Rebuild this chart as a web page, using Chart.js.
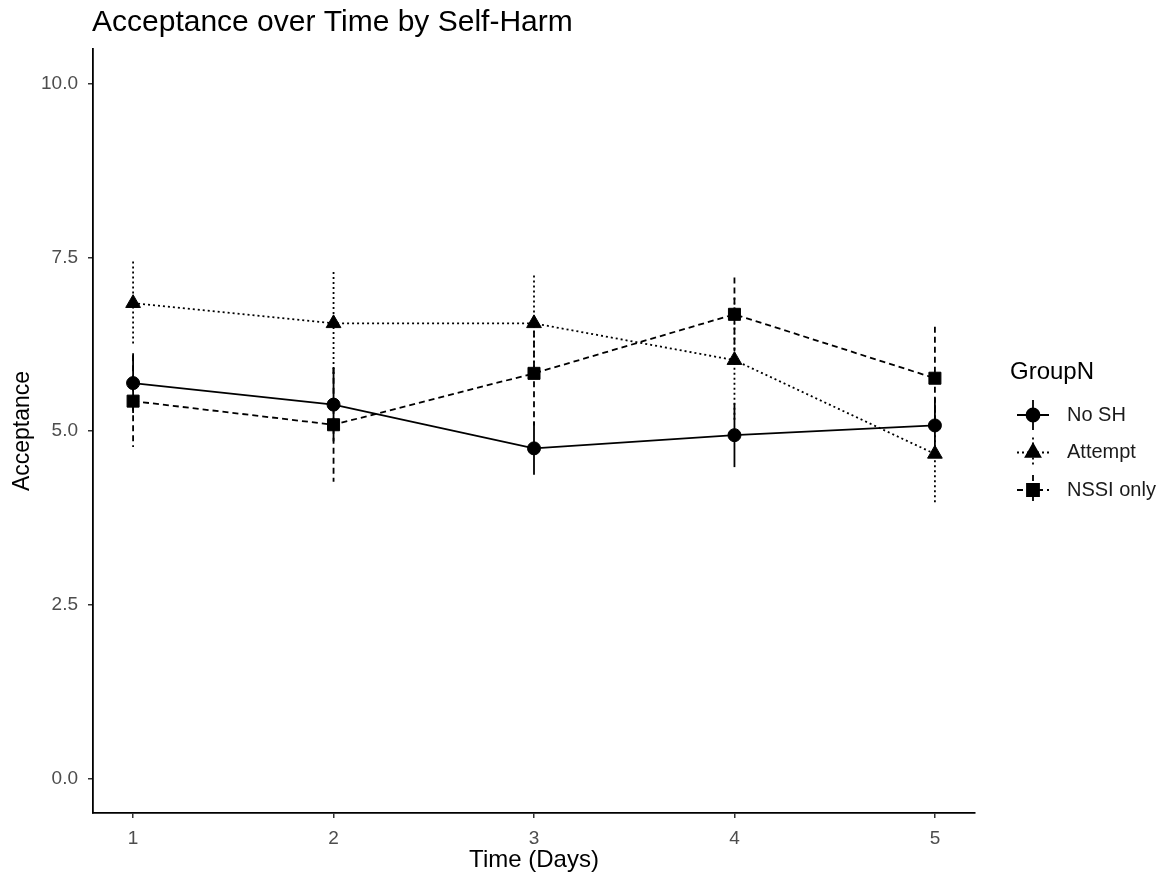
<!DOCTYPE html>
<html lang="en">
<head>
  <meta charset="UTF-8">
  <title>Acceptance over Time by Self-Harm</title>
  <script src="https://cdn.jsdelivr.net/npm/chart.js"></script>
  <style>
    html, body { margin: 0; padding: 0; background: #fff; }
  </style>
</head>
<body>
  <canvas id="acceptChart" width="1170" height="884"></canvas>

  <script>
    const days = [1, 2, 3, 4, 5];
    const yTicks = [0, 2.5, 5, 7.5, 10];
    const groupNames = ['No SH', 'Attempt', 'NSSI only'];

    const noSH = [5.69, 5.38, 4.75, 4.94, 5.08];
    const noSHErr = [0.43, 0.53, 0.38, 0.46, 0.40];
    const attempt = [6.84, 6.55, 6.55, 6.02, 4.67];
    const attemptErr = [0.60, 0.74, 0.69, 0.90, 0.70];
    const nssi = [5.43, 5.09, 5.83, 6.68, 5.76];
    const nssiErr = [0.66, 0.82, 0.75, 0.53, 0.74];

    const FONT = "'Liberation Sans', Arial, sans-serif";
    const dashes = [[], [2, 3], [6, 4]];
    const shapes = ['circle', 'triangle', 'rect'];
    const radii = [6.5, 8.5, 8.5];
    const errs = [noSHErr, attemptErr, nssiErr];

    function toPoints(vals) {
      return days.map((d, i) => ({ x: d, y: vals[i] }));
    }

    // vertical error bars, no caps
    const errorBars = {
      id: 'errorBars',
      beforeDatasetsDraw(chart) {
        const ctx = chart.ctx;
        const xs = chart.scales.x, ys = chart.scales.y;
        chart.data.datasets.forEach((ds, k) => {
          ctx.save();
          ctx.strokeStyle = '#000';
          ctx.lineWidth = 1.8;
          ctx.setLineDash(dashes[k]);
          ds.data.forEach((p, i) => {
            const px = xs.getPixelForValue(p.x);
            ctx.beginPath();
            ctx.moveTo(px, ys.getPixelForValue(p.y + errs[k][i]));
            ctx.lineTo(px, ys.getPixelForValue(p.y - errs[k][i]));
            ctx.stroke();
          });
          ctx.restore();
        });
      }
    };

    // title and ggplot-style legend on the right
    const decorations = {
      id: 'decorations',
      afterDraw(chart) {
        const ctx = chart.ctx;
        ctx.save();
        ctx.fillStyle = '#000';
        ctx.font = '30px ' + FONT;
        ctx.textBaseline = 'middle';
        ctx.textAlign = 'left';
        ctx.fillText('Acceptance over Time by Self-Harm', 92, 23);

        ctx.font = '24px ' + FONT;
        ctx.fillText('GroupN', 1010, 372);

        const cx = 1033;
        groupNames.forEach((name, k) => {
          const cy = 415 + k * 37.5;
          ctx.strokeStyle = '#000';
          ctx.lineWidth = 1.8;
          ctx.setLineDash(dashes[k]);
          ctx.beginPath();
          ctx.moveTo(cx - 16, cy);
          ctx.lineTo(cx + 16, cy);
          ctx.moveTo(cx, cy - 15);
          ctx.lineTo(cx, cy + 15);
          ctx.stroke();
          ctx.setLineDash([]);
          Chart.helpers.drawPoint(ctx, {
            pointStyle: shapes[k], radius: radii[k], borderWidth: 1
          }, cx, cy);
          ctx.fill();
          ctx.fillStyle = '#1a1a1a';
          ctx.font = '20px ' + FONT;
          ctx.fillText(name, 1067, cy);
          ctx.fillStyle = '#000';
        });
        ctx.restore();
      }
    };

    const datasets = [noSH, attempt, nssi].map((vals, k) => ({
      label: groupNames[k],
      data: toPoints(vals),
      borderColor: '#000',
      backgroundColor: '#000',
      borderWidth: 1.8,
      borderDash: dashes[k],
      pointStyle: shapes[k],
      pointRadius: radii[k],
      pointBorderWidth: 1,
      pointBackgroundColor: '#000',
      tension: 0
    }));

    const axisTick = { family: FONT, size: 19 };

    new Chart(document.getElementById('acceptChart'), {
      type: 'line',
      data: { datasets },
      options: {
        responsive: false,
        animation: false,
        layout: { padding: { top: 49, right: 195, left: 0, bottom: 0 } },
        plugins: { legend: { display: false }, tooltip: { enabled: false } },
        scales: {
          x: {
            type: 'linear',
            min: 0.8,
            max: 5.2,
            afterBuildTicks(s) { s.ticks = days.map(v => ({ value: v })); },
            afterFit(s) { s.height = 71; },
            ticks: { color: '#4d4d4d', font: axisTick, padding: 9, callback: v => String(v) },
            grid: { drawOnChartArea: false, tickLength: 5, color: '#333', lineWidth: 1.5 },
            border: { display: true, color: '#000', width: 1.8 },
            title: { display: true, text: 'Time (Days)', color: '#000', font: { family: FONT, size: 24 }, padding: { bottom: 9 } }
          },
          y: {
            type: 'linear',
            min: -0.5,
            max: 10.5,
            afterBuildTicks(s) { s.ticks = yTicks.map(v => ({ value: v })); },
            afterFit(s) { s.width = 93; },
            ticks: { color: '#4d4d4d', font: axisTick, padding: 10, callback: v => v.toFixed(1) },
            grid: { drawOnChartArea: false, tickLength: 5, color: '#333', lineWidth: 1.5 },
            border: { display: true, color: '#000', width: 1.8 },
            title: { display: true, text: 'Acceptance', color: '#000', font: { family: FONT, size: 23 }, padding: { top: 9 } }
          }
        }
      },
      plugins: [errorBars, decorations]
    });
  </script>
</body>
</html>
